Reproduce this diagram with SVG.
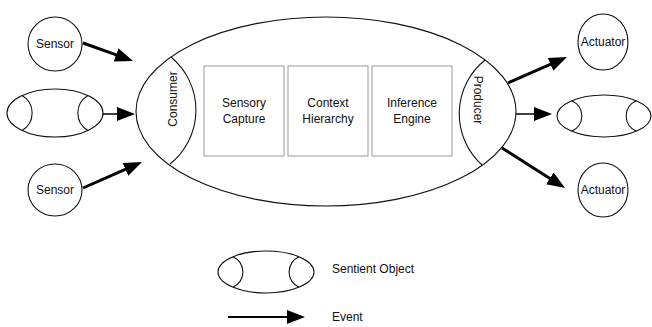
<svg xmlns="http://www.w3.org/2000/svg" width="652" height="327" viewBox="0 0 652 327">
<defs>
<style>
.ln{fill:none;stroke:#111;stroke-width:1.1}
.box{fill:#fff;stroke:#9a9a9a;stroke-width:1}
.t{font-family:"Liberation Sans",Arial,sans-serif;font-size:12px;fill:#111}
.c{text-anchor:middle}
.thick{fill:none;stroke:#000;stroke-width:3}
.thin{fill:none;stroke:#000;stroke-width:1.5}
.leg{fill:none;stroke:#000;stroke-width:2}
</style>
<marker id="ah" markerUnits="userSpaceOnUse" markerWidth="18" markerHeight="14" refX="1" refY="7" orient="auto">
<path d="M0,0 L18,7 L0,14 z" fill="#000"/>
</marker>
</defs>
<rect width="652" height="327" fill="#fff"/>

<g id="sentient-main">
<ellipse class="ln" cx="326" cy="111.5" rx="190" ry="94.5"/>
<path class="ln" d="M171,57 A69,69 0 0 1 170,164"/>
<path class="ln" d="M485,60 A69,69 0 0 0 482,165"/>
<text class="t c" transform="translate(177,99) rotate(-90)">Consumer</text>
<text class="t c" transform="translate(474,100) rotate(90)">Producer</text>
</g>

<g id="sensory-capture">
<rect class="box" x="204" y="66" width="80" height="90"/>
<text class="t c" x="244" y="107">Sensory</text>
<text class="t c" x="244" y="123">Capture</text>
</g>
<g id="context-hierarchy">
<rect class="box" x="288" y="66" width="80" height="90"/>
<text class="t c" x="328" y="107">Context</text>
<text class="t c" x="328" y="123">Hierarchy</text>
</g>
<g id="inference-engine">
<rect class="box" x="372" y="66" width="80" height="90"/>
<text class="t c" x="412" y="107">Inference</text>
<text class="t c" x="412" y="123">Engine</text>
</g>

<g id="sensor-top">
<ellipse class="ln" cx="55" cy="44" rx="27" ry="27"/>
<text class="t c" x="55" y="48">Sensor</text>
</g>
<g id="sentient-left">
<ellipse class="ln" cx="55" cy="113" rx="48" ry="24"/>
<path class="ln" d="M22,95.6 A20,20 0 0 1 22,130.4"/>
<path class="ln" d="M88,95.6 A20,20 0 0 0 88,130.4"/>
</g>
<g id="sensor-bottom">
<ellipse class="ln" cx="55" cy="190" rx="27" ry="26"/>
<text class="t c" x="55" y="194">Sensor</text>
</g>

<g id="actuator-top">
<ellipse class="ln" cx="603" cy="42" rx="25" ry="28"/>
<text class="t c" x="603" y="46">Actuator</text>
</g>
<g id="sentient-right">
<ellipse class="ln" cx="604" cy="116" rx="47" ry="21"/>
<path class="ln" d="M571.7,100.7 A16.6,16.6 0 0 1 571.7,131.3"/>
<path class="ln" d="M636.3,100.7 A16.6,16.6 0 0 0 636.3,131.3"/>
</g>
<g id="actuator-bottom">
<ellipse class="ln" cx="603" cy="190" rx="25" ry="27"/>
<text class="t c" x="603" y="194">Actuator</text>
</g>

<g id="connectors">
<line class="thick" x1="83" y1="43" x2="117" y2="55.2" marker-end="url(#ah)"/>
<line class="thin" x1="103" y1="114" x2="118" y2="114" marker-end="url(#ah)"/>
<line class="thick" x1="83" y1="188" x2="126.4" y2="168.9" marker-end="url(#ah)"/>
<line class="thick" x1="508" y1="83" x2="551.4" y2="63.9" marker-end="url(#ah)"/>
<line class="thin" x1="516" y1="114" x2="535" y2="114" marker-end="url(#ah)"/>
<line class="thick" x1="502" y1="148" x2="550.7" y2="178.9" marker-end="url(#ah)"/>
</g>

<g id="legend">
<g id="legend-sentient">
<ellipse class="ln" cx="266" cy="272" rx="48" ry="21"/>
<path class="ln" d="M233,256.8 A16.6,16.6 0 0 1 233,287.2"/>
<path class="ln" d="M299,256.8 A16.6,16.6 0 0 0 299,287.2"/>
</g>
<text class="t" x="332" y="273">Sentient Object</text>
<line class="leg" x1="228" y1="317" x2="288" y2="317" marker-end="url(#ah)"/>
<text class="t" x="332" y="321">Event</text>
</g>
</svg>
